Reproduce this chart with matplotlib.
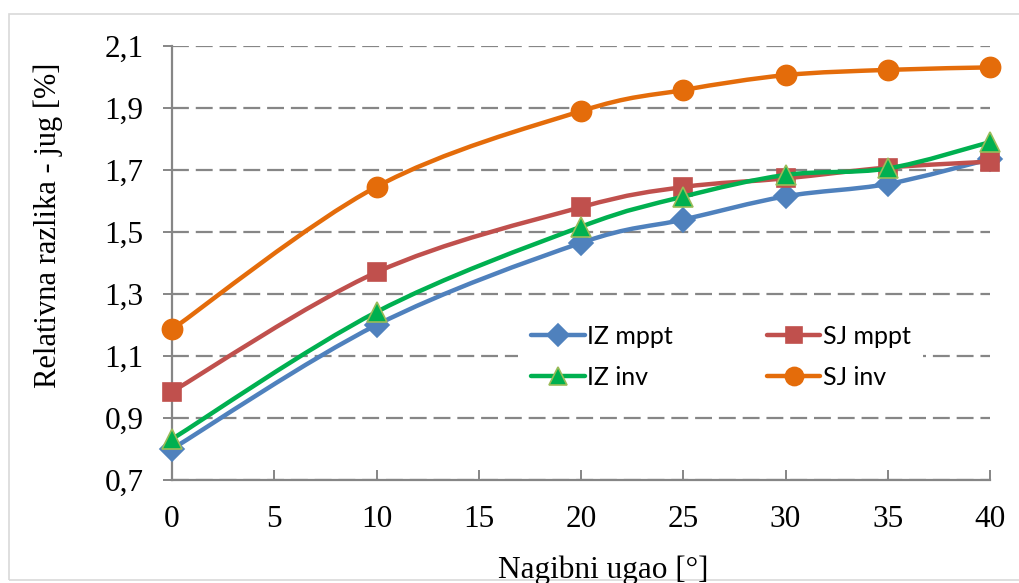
import numpy as np
import matplotlib
matplotlib.use("Agg")
import matplotlib.pyplot as plt
from matplotlib.path import Path
from matplotlib.patches import PathPatch, Rectangle
from matplotlib.lines import Line2D
from matplotlib.ticker import FuncFormatter, MultipleLocator

# data
tilt = [0, 10, 20, 25, 30, 35, 40]
iz_mppt = [0.80, 1.20, 1.465, 1.54, 1.615, 1.655, 1.735]
sj_mppt = [0.985, 1.37, 1.58, 1.645, 1.673, 1.708, 1.727]
iz_inv = [0.832, 1.242, 1.517, 1.614, 1.684, 1.705, 1.79]
sj_inv = [1.186, 1.646, 1.89, 1.958, 2.006, 2.023, 2.031]

labels = ["IZ mppt", "SJ mppt", "IZ inv", "SJ inv"]
series = [iz_mppt, sj_mppt, iz_inv, sj_inv]
colors = ["#4F81BD", "#C0504D", "#00B050", "#E46C0A"]
markers = ["D", "s", "^", "o"]
msizes = [12.5, 13.5, 14, 14.5]
medges = ["#4F81BD", "#C0504D", "#9BBB59", "#E46C0A"]

serif = "Liberation Serif"
sans = "Lato"
grid_col = "#868686"


# Excel-like smoothed line: cubic bezier through the points
def smooth_path(xs, ys):
    pts = np.column_stack([xs, ys]).astype(float)
    n = len(pts)
    verts = [pts[0]]
    codes = [Path.MOVETO]
    for i in range(n - 1):
        p0 = pts[max(i - 1, 0)]
        p1 = pts[i]
        p2 = pts[i + 1]
        p3 = pts[min(i + 2, n - 1)]
        c1 = p1 + (p2 - p0) / 6.0
        c2 = p2 - (p3 - p1) / 6.0
        verts += [c1, c2, p2]
        codes += [Path.CURVE4] * 3
    return Path(verts, codes)


fig = plt.figure(figsize=(10.19, 5.83), dpi=100)
ax = fig.add_axes([172 / 1019, 1 - 480 / 583, 818 / 1019, 434 / 583])

handles = {}
for k, (lab, ys) in enumerate(zip(labels, series)):
    patch = PathPatch(smooth_path(tilt, ys), facecolor="none", edgecolor=colors[k],
                      lw=3.2, capstyle="round", joinstyle="round", zorder=3 + k, clip_on=False)
    ax.add_patch(patch)
    ax.plot(tilt, ys, ls="none", marker=markers[k], ms=msizes[k], mfc=colors[k],
            mec=medges[k], mew=1.2, zorder=3 + k, clip_on=False)
    handles[lab] = Line2D([], [], color=colors[k], lw=3.2, marker=markers[k],
                          ms=msizes[k] * 0.9, mfc=colors[k], mec=medges[k], mew=1.2,
                          solid_capstyle="round")

ax.set_xlim(0, 40)
ax.set_ylim(0.7, 2.1)
ax.xaxis.set_major_locator(MultipleLocator(5))
ax.set_yticks(np.arange(0.7, 2.11, 0.2))
ax.yaxis.set_major_formatter(FuncFormatter(lambda v, p: f"{v:.1f}".replace(".", ",")))

for s in ["top", "right"]:
    ax.spines[s].set_visible(False)
for s in ["left", "bottom"]:
    ax.spines[s].set_color(grid_col)
    ax.spines[s].set_linewidth(1.6)

ax.tick_params(axis="x", direction="in", length=7, width=1.4, color=grid_col,
               labelsize=22.5, pad=18)
ax.tick_params(axis="y", direction="out", length=6.5, width=1.4, color=grid_col,
               labelsize=22.5, pad=14)
for t in ax.get_xticklabels() + ax.get_yticklabels():
    t.set_fontfamily(serif)

ax.grid(axis="y", color=grid_col, lw=1.6, dashes=(7.6, 3.1))
ax.set_axisbelow(True)

order = ["IZ mppt", "IZ inv", "SJ mppt", "SJ inv"]
leg = ax.legend([handles[o] for o in order], order, ncol=2, loc="center",
                bbox_to_anchor=(0.671, 0.283), frameon=True, facecolor="white",
                edgecolor="none", framealpha=1, fancybox=False,
                prop={"family": sans, "size": 18}, handlelength=2.15,
                handletextpad=0.1, columnspacing=3.75, labelspacing=0.72,
                borderpad=0.5)
leg.set_zorder(20)

fig.text(48 / 1019, 1 - 225 / 583, "Relativna razlika - jug [%]", rotation=90,
         ha="center", va="center", fontsize=22, family=serif)
fig.text(603 / 1019, 5 / 583, "Nagibni ugao [°]", ha="center", va="baseline",
         fontsize=22.5, family=serif)

# thin chart-area frame like the office export
fig.patches.append(Rectangle((9 / 1019, 3 / 583), 1.0, 566 / 583, transform=fig.transFigure,
                             facecolor="none", edgecolor="#d9d9d9", lw=1.2))

fig.savefig("out.png", dpi=100)
